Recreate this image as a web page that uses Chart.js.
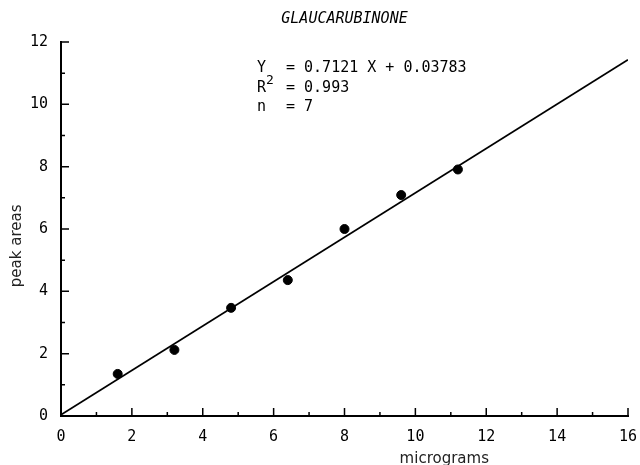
<!DOCTYPE html>
<html>
<head>
<meta charset="utf-8">
<script src="https://cdn.jsdelivr.net/npm/chart.js@4.4.1/dist/chart.umd.min.js"></script>
<style>
  html, body { margin: 0; padding: 0; background: #fff; }
  #wrap { width: 640px; height: 465px; }
</style>
</head>
<body>
<div id="wrap"><canvas id="chart"></canvas></div>
<script>
// measured standards (x = micrograms, y = peak area)
const micrograms = [1.6, 3.2, 4.8, 6.4, 8.0, 9.6, 11.2];
const peakAreas = [1.35, 2.12, 3.47, 4.36, 6.0, 7.09, 7.91];

// regression line end points, Y = 0.7121 X + 0.03783
const fitX = [0, 16];
const fitY = [0.038, 11.43];

const xTicks = [0, 2, 4, 6, 8, 10, 12, 14, 16];
const yTicks = [0, 2, 4, 6, 8, 10, 12];

const titleText = 'GLAUCARUBINONE';
const equation = ['Y', '= 0.7121 X + 0.03783'];
const rSquared = ['R', '2', '= 0.993'];
const countLine = ['n', '= 7'];

const MONO = '"DejaVu Sans Mono", "Liberation Mono", monospace';

// inward tick marks + free text (equation, axis titles)
const plotExtras = {
  id: 'plotExtras',
  afterDraw(chart) {
    const { ctx, chartArea: a, scales: { x, y } } = chart;
    ctx.save();
    ctx.strokeStyle = '#000';
    ctx.lineWidth = 1.5;
    ctx.beginPath();
    for (let v = 0; v <= 16; v++) {
      const px = x.getPixelForValue(v);
      const len = v % 2 ? 4 : 8;
      ctx.moveTo(px, a.bottom);
      ctx.lineTo(px, a.bottom - len);
    }
    for (let v = 0; v <= 12; v++) {
      const py = y.getPixelForValue(v);
      const len = v % 2 ? 4 : 8;
      ctx.moveTo(a.left, py);
      ctx.lineTo(a.left + len, py);
    }
    ctx.stroke();

    ctx.fillStyle = '#000';
    ctx.textBaseline = 'alphabetic';
    ctx.textAlign = 'left';
    ctx.font = '15px ' + MONO;
    const ex = a.left + 196;
    ctx.fillText(equation[0], ex, a.top + 30);
    ctx.fillText(equation[1], ex + 29, a.top + 30);
    ctx.fillText(rSquared[0], ex, a.top + 50);
    ctx.font = '13px ' + MONO;
    ctx.fillText(rSquared[1], ex + 9, a.top + 42);
    ctx.font = '15px ' + MONO;
    ctx.fillText(rSquared[2], ex + 29, a.top + 50);
    ctx.fillText(countLine[0], ex, a.top + 69);
    ctx.fillText(countLine[1], ex + 29, a.top + 69);

    ctx.font = '15px "DejaVu Sans", sans-serif';
    ctx.fillStyle = '#222';
    ctx.textAlign = 'center';
    ctx.fillText('micrograms', a.left + a.width * 0.676, a.bottom + 47);
    ctx.translate(a.left - 40, a.top + a.height * 0.545);
    ctx.rotate(-Math.PI / 2);
    ctx.fillText('peak areas', 0, 0);
    ctx.restore();
  }
};

new Chart(document.getElementById('chart'), {
  type: 'scatter',
  data: {
    datasets: [
      {
        label: 'fit',
        type: 'line',
        data: fitX.map((v, i) => ({ x: v, y: fitY[i] })),
        borderColor: '#000',
        borderWidth: 1.8,
        pointRadius: 0,
        fill: false,
        tension: 0,
      },
      {
        label: 'peak areas',
        data: micrograms.map((v, i) => ({ x: v, y: peakAreas[i] })),
        backgroundColor: '#000',
        borderColor: '#000',
        pointRadius: 4.5,
        pointHoverRadius: 4.5,
      },
    ],
  },
  options: {
    responsive: true,
    maintainAspectRatio: false,
    animation: false,
    layout: { padding: { left: 0, right: 12, top: 0, bottom: 0 } },
    plugins: {
      legend: { display: false },
      tooltip: { enabled: false },
      title: {
        display: true,
        text: titleText,
        fullSize: false,
        color: '#000',
        font: { family: MONO, size: 15, style: 'italic', weight: 'normal' },
        padding: { top: 10, bottom: 14 },
      },
    },
    scales: {
      x: {
        type: 'linear',
        min: 0,
        max: 16,
        afterBuildTicks(scale) { scale.ticks = xTicks.map((v) => ({ value: v })); },
        afterFit(scale) {
          scale.height = 49;
          scale.paddingRight = 0;
          scale.paddingLeft = 0;
        },
        grid: { display: false, drawTicks: false },
        border: { display: true, color: '#000', width: 2 },
        ticks: { color: '#000', padding: 12, font: { family: MONO, size: 15 } },
      },
      y: {
        type: 'linear',
        min: 0,
        max: 12,
        afterBuildTicks(scale) { scale.ticks = yTicks.map((v) => ({ value: v })); },
        afterFit(scale) { scale.width = 61; },
        grid: { display: false, drawTicks: false },
        border: { display: true, color: '#000', width: 2 },
        ticks: { color: '#000', padding: 13, font: { family: MONO, size: 15 } },
      },
    },
  },
  plugins: [plotExtras],
});
</script>
</body>
</html>
